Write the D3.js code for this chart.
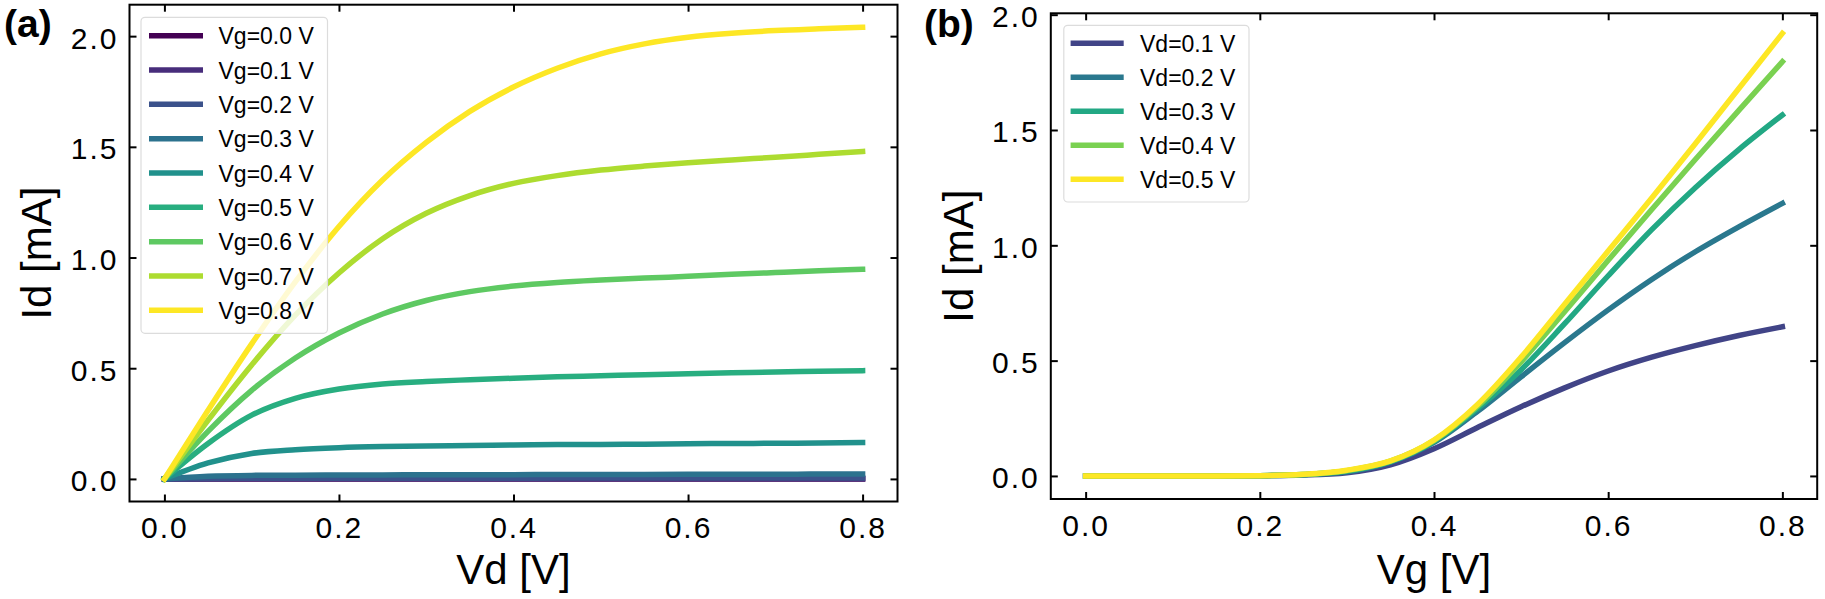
<!DOCTYPE html>
<html>
<head>
<meta charset="utf-8">
<script src="https://cdn.jsdelivr.net/npm/d3@7"></script>
<style>
  html, body { margin: 0; padding: 0; background: #fff; }
  svg { display: block; }
  text { font-family: "Liberation Sans", Arial, sans-serif; fill: #000; }
</style>
</head>
<body>
<svg id="chart" width="1825" height="599"></svg>
<script>
// ---------- DATA ----------
const vdValues = [0,0.05,0.1,0.15,0.2,0.25,0.3,0.35,0.4,0.45,0.5,0.55,0.6,0.65,0.7,0.75,0.8];
const vgLabels = ["Vg=0.0 V","Vg=0.1 V","Vg=0.2 V","Vg=0.3 V","Vg=0.4 V","Vg=0.5 V","Vg=0.6 V","Vg=0.7 V","Vg=0.8 V"];
const idVg00 = [0,0,0,0,0,0,0,0,0,0,0,0,0,0,0,0,0];
const idVg01 = [0,0.0005,0.0008,0.001,0.001,0.001,0.001,0.001,0.001,0.001,0.001,0.001,0.001,0.001,0.001,0.001,0.001];
const idVg02 = [0,0.002,0.003,0.003,0.003,0.003,0.003,0.003,0.003,0.004,0.004,0.004,0.004,0.004,0.004,0.004,0.004];
const idVg03 = [0,0.012,0.016,0.017,0.018,0.018,0.019,0.019,0.019,0.020,0.020,0.020,0.021,0.021,0.021,0.022,0.022];
const idVg04 = [0,0.072,0.115,0.132,0.141,0.146,0.149,0.151,0.153,0.155,0.156,0.157,0.159,0.160,0.161,0.162,0.164];
const idVg05 = [0,0.160,0.288,0.364,0.406,0.429,0.440,0.448,0.455,0.461,0.466,0.471,0.475,0.479,0.483,0.486,0.489];
const idVg06 = [0,0.215,0.400,0.546,0.659,0.745,0.806,0.846,0.871,0.887,0.898,0.907,0.915,0.924,0.932,0.940,0.947];
const idVg07 = [0,0.265,0.515,0.740,0.930,1.085,1.200,1.280,1.335,1.370,1.395,1.413,1.428,1.441,1.453,1.466,1.479];
const idVg08 = [0,0.310,0.610,0.890,1.140,1.350,1.520,1.660,1.770,1.855,1.920,1.965,1.995,2.013,2.025,2.033,2.040];

const vgValues = [0,0.05,0.1,0.15,0.2,0.25,0.3,0.35,0.4,0.45,0.5,0.55,0.6,0.65,0.7,0.75,0.8];
const vdLabels = ["Vd=0.1 V","Vd=0.2 V","Vd=0.3 V","Vd=0.4 V","Vd=0.5 V"];
const idVd01 = [0,0,0,0,0.001,0.004,0.014,0.048,0.118,0.210,0.300,0.382,0.455,0.515,0.565,0.609,0.647];
const idVd02 = [0,0,0,0,0.001,0.005,0.018,0.060,0.145,0.280,0.430,0.578,0.720,0.852,0.972,1.080,1.182];
const idVd03 = [0,0,0,0,0.001,0.006,0.021,0.062,0.150,0.292,0.460,0.660,0.868,1.068,1.250,1.415,1.565];
const idVd04 = [0,0,0,0,0.001,0.006,0.023,0.064,0.153,0.302,0.495,0.712,0.935,1.155,1.372,1.585,1.796];
const idVd05 = [0,0,0,0,0.001,0.007,0.025,0.065,0.156,0.310,0.515,0.745,0.975,1.205,1.440,1.680,1.919];

const xTicks = [0,0.2,0.4,0.6,0.8];
const yTicks = [0,0.5,1.0,1.5,2.0];

// ---------- DRAW ----------
const svg = d3.select("#chart");

function panel(cfg) {
  const x = d3.scaleLinear().domain(cfg.xDomain).range(cfg.xRange);
  const y = d3.scaleLinear().domain(cfg.yDomain).range(cfg.yRange);
  const g = svg.append("g");

  const clipId = "clip" + cfg.id;
  svg.append("clipPath").attr("id", clipId).append("rect")
    .attr("x", cfg.xRange[0]).attr("y", cfg.yRange[1])
    .attr("width", cfg.xRange[1]-cfg.xRange[0]).attr("height", cfg.yRange[0]-cfg.yRange[1]);

  const line = d3.line().x(d => x(d[0])).y(d => y(d[1])).curve(d3.curveMonotoneX);
  const lg = g.append("g").attr("clip-path", `url(#${clipId})`);
  cfg.series.forEach((s, i) => {
    lg.append("path")
      .datum(cfg.xs.map((v, k) => [v, s[k]]))
      .attr("d", line)
      .attr("fill", "none")
      .attr("stroke", cfg.colors[i])
      .attr("stroke-width", 5.5)
      .attr("stroke-linejoin", "round")
      .attr("stroke-linecap", "square");
  });

  const fmt = d3.format(".1f");
  const tickStyle = sel => {
    sel.select(".domain").remove();
    sel.selectAll(".tick line").attr("stroke", "#000").attr("stroke-width", 2);
  };
  // bottom
  const ax = g.append("g").attr("transform", `translate(0,${cfg.yRange[0]})`)
    .call(d3.axisBottom(x).tickValues(xTicks).tickFormat(fmt).tickSize(-7).tickPadding(15.5));
  tickStyle(ax);
  ax.selectAll(".tick text").attr("font-size", 30).attr("letter-spacing", "2px")
    .attr("font-family", "Liberation Sans, Arial, sans-serif").attr("fill", "#000");
  // left
  const ay = g.append("g").attr("transform", `translate(${cfg.xRange[0]},0)`)
    .call(d3.axisLeft(y).tickValues(yTicks).tickFormat(fmt).tickSize(-7).tickPadding(11));
  tickStyle(ay);
  ay.selectAll(".tick text").attr("font-size", 30).attr("letter-spacing", "2px").attr("dy", "0.4em")
    .attr("font-family", "Liberation Sans, Arial, sans-serif").attr("fill", "#000");
  // top
  const at = g.append("g").attr("transform", `translate(0,${cfg.yRange[1]})`)
    .call(d3.axisTop(x).tickValues(xTicks).tickFormat("").tickSize(-7));
  tickStyle(at);
  // right
  const ar = g.append("g").attr("transform", `translate(${cfg.xRange[1]},0)`)
    .call(d3.axisRight(y).tickValues(yTicks).tickFormat("").tickSize(-7));
  tickStyle(ar);

  // frame
  g.append("rect")
    .attr("x", cfg.xRange[0]).attr("y", cfg.yRange[1])
    .attr("width", cfg.xRange[1]-cfg.xRange[0]).attr("height", cfg.yRange[0]-cfg.yRange[1])
    .attr("fill", "none").attr("stroke", "#000").attr("stroke-width", 2);

  // axis labels
  g.append("text")
    .attr("x", (cfg.xRange[0]+cfg.xRange[1])/2).attr("y", 584)
    .attr("text-anchor", "middle").attr("font-size", 42).text(cfg.xLabel);
  g.append("text")
    .attr("transform", `translate(${cfg.yLabelX},${(cfg.yRange[0]+cfg.yRange[1])/2}) rotate(-90)`)
    .attr("text-anchor", "middle").attr("font-size", 42).text(cfg.yLabel);

  // panel letter
  g.append("text")
    .attr("x", cfg.letterX).attr("y", 37)
    .attr("font-size", 39).attr("font-weight", "bold").text(cfg.letter);

  // legend
  const L = cfg.legend;
  const leg = g.append("g");
  leg.append("rect")
    .attr("x", L.x0).attr("y", L.y0).attr("width", L.x1-L.x0).attr("height", L.y1-L.y0)
    .attr("rx", 4).attr("ry", 4)
    .attr("fill", "#fff").attr("fill-opacity", 0.8)
    .attr("stroke", "#dcdcdc").attr("stroke-width", 1.2);
  cfg.labels.forEach((lab, i) => {
    const yy = L.firstY + i * L.step;
    leg.append("line")
      .attr("x1", L.lineX0).attr("x2", L.lineX1).attr("y1", yy).attr("y2", yy)
      .attr("stroke", cfg.colors[i]).attr("stroke-width", 5.5);
    leg.append("text")
      .attr("x", L.textX).attr("y", yy + 8.5)
      .attr("font-size", 23).text(lab);
  });
}

panel({
  id: "a",
  xs: vdValues,
  series: [idVg00, idVg01, idVg02, idVg03, idVg04, idVg05, idVg06, idVg07, idVg08],
  labels: vgLabels,
  colors: vgLabels.map((_, i) => d3.interpolateViridis(i / 8)),
  xDomain: [-0.04, 0.84], xRange: [129.5, 897.5],
  yDomain: [-0.102, 2.142], yRange: [501.5, 4.7],
  xLabel: "Vd [V]", yLabel: "Id [mA]", yLabelX: 51,
  letter: "(a)", letterX: 4,
  legend: { x0: 141, x1: 327.5, y0: 17.3, y1: 333.3, lineX0: 149, lineX1: 203, textX: 218.5, firstY: 35.7, step: 34.33 }
});

panel({
  id: "b",
  xs: vgValues,
  series: [idVd01, idVd02, idVd03, idVd04, idVd05],
  labels: vdLabels,
  colors: vdLabels.map((_, i) => d3.interpolateViridis((i + 1) / 5)),
  xDomain: [-0.04, 0.84], xRange: [1050.8, 1817.2],
  yDomain: [-0.1, 2.006], yRange: [499, 13.3],
  xLabel: "Vg [V]", yLabel: "Id [mA]", yLabelX: 973,
  letter: "(b)", letterX: 924,
  legend: { x0: 1063.8, x1: 1249, y0: 25.3, y1: 202, lineX0: 1070.6, lineX1: 1123.7, textX: 1140, firstY: 43.3, step: 34 }
});
</script>
</body>
</html>
